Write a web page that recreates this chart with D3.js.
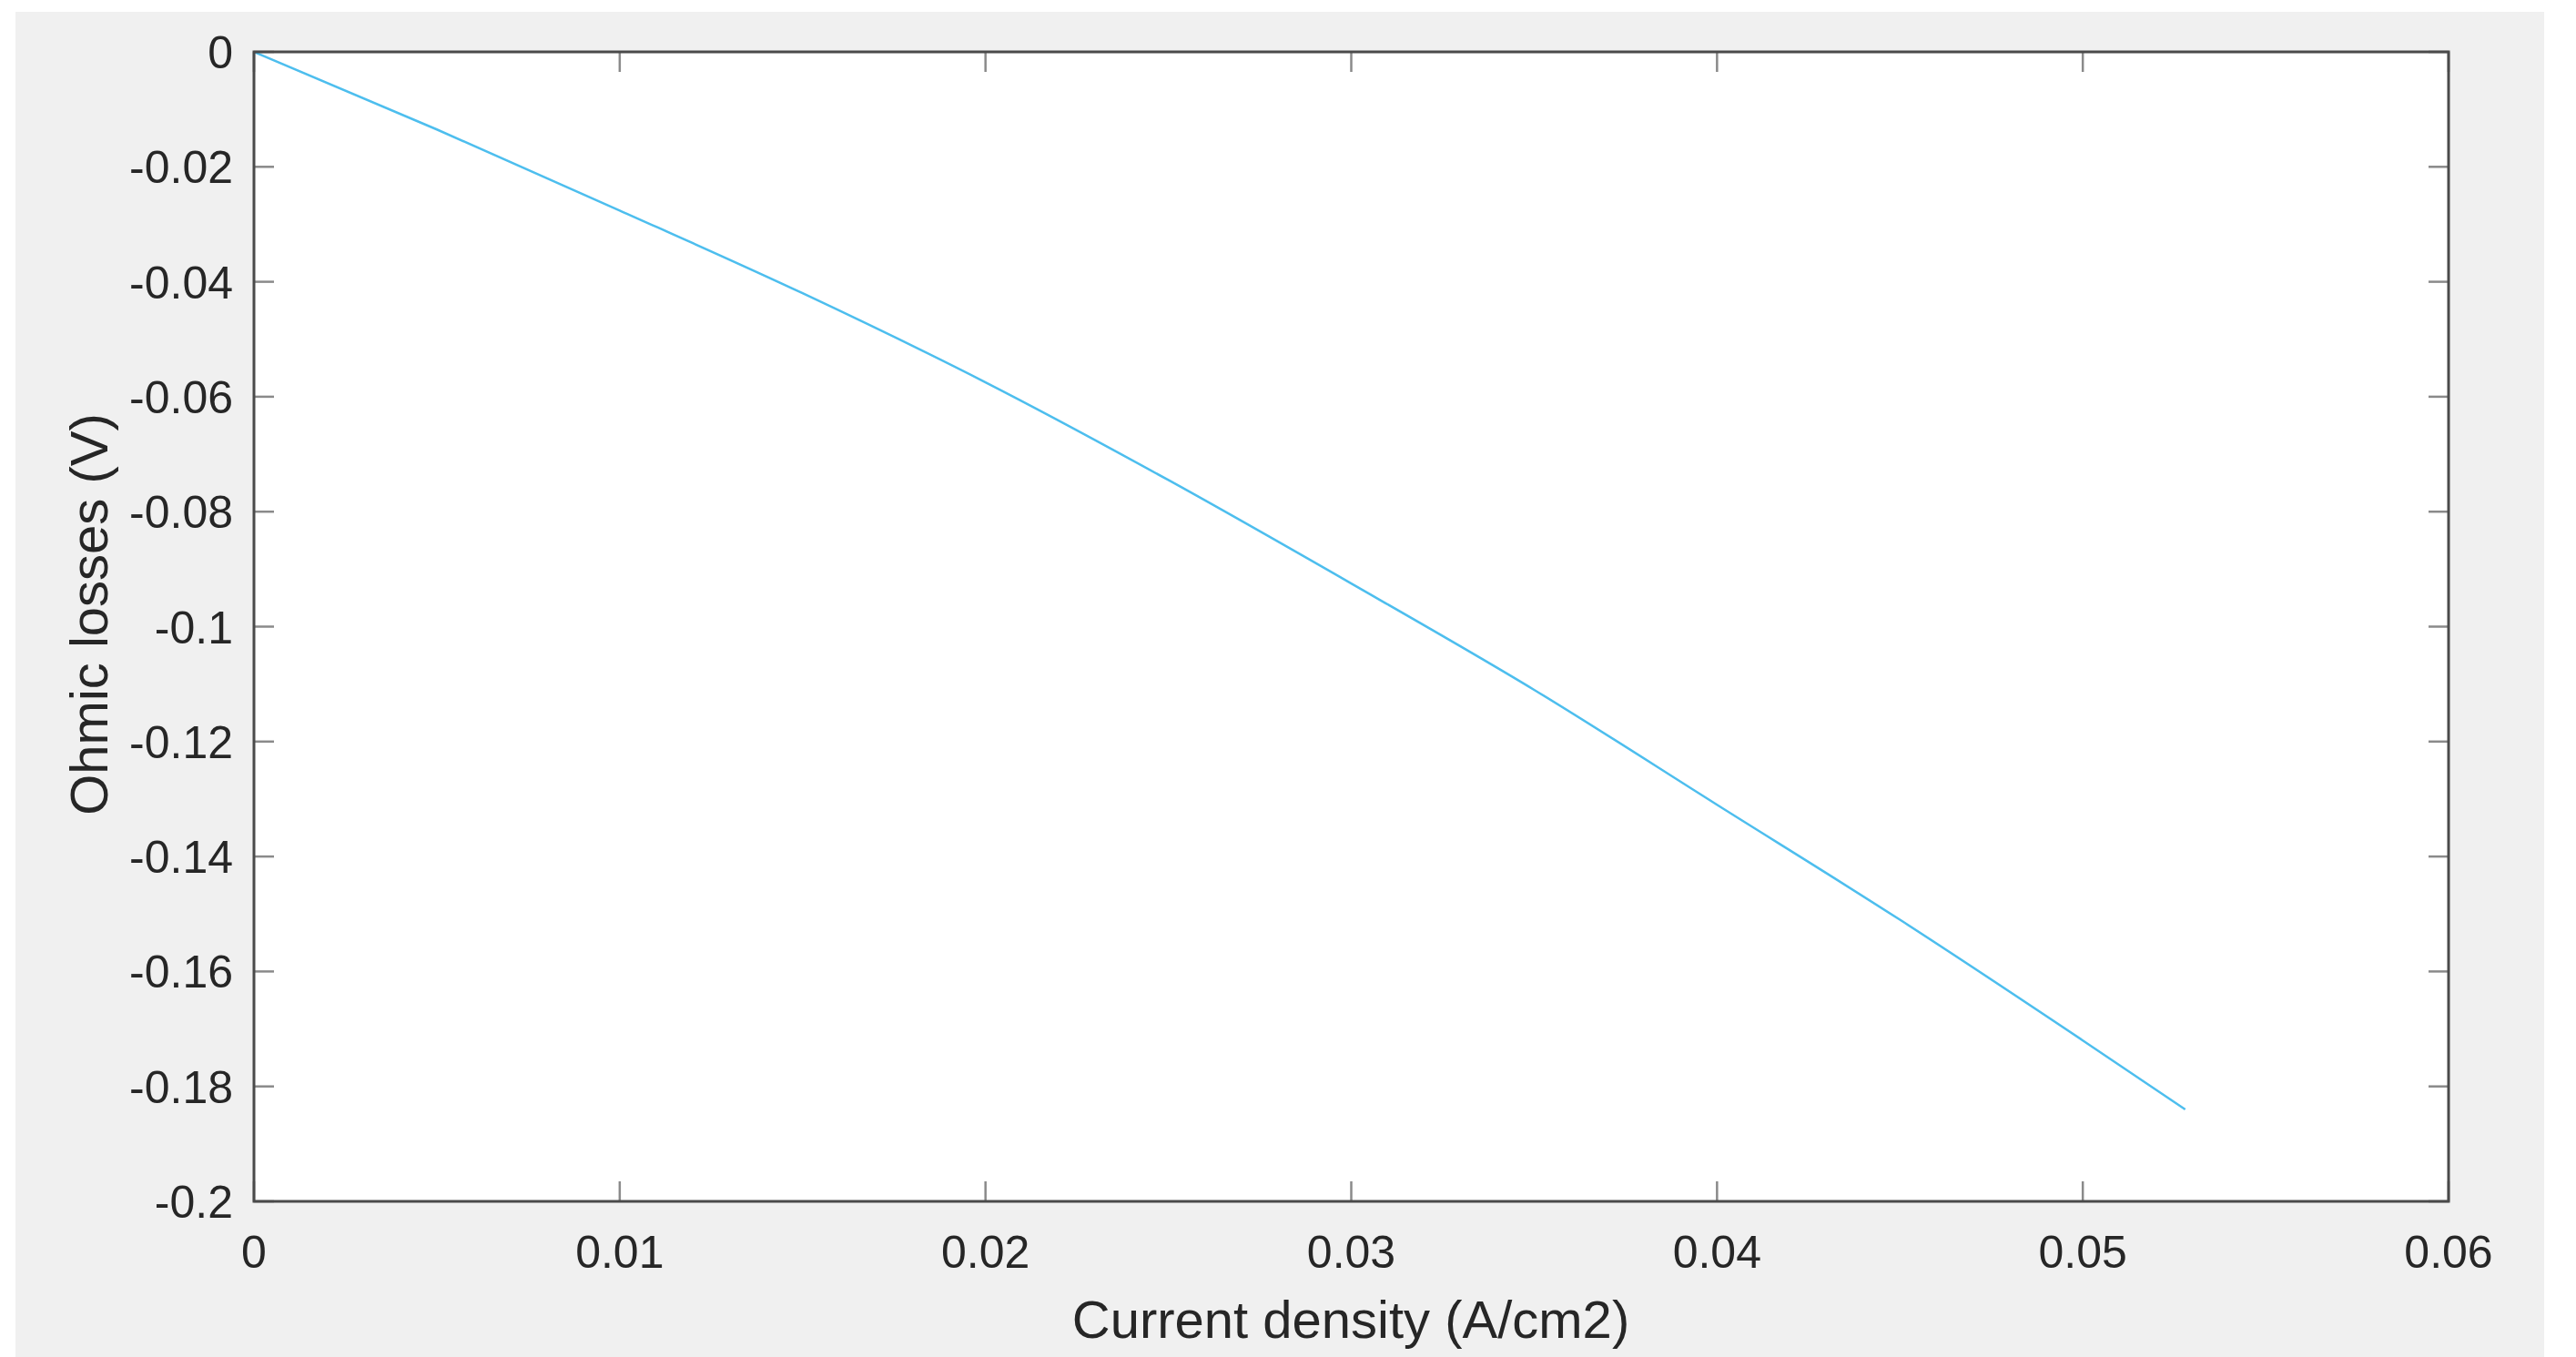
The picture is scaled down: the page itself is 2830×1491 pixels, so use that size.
<!DOCTYPE html>
<html>
<head>
<meta charset="utf-8">
<script src="https://cdn.jsdelivr.net/npm/d3@7"></script>
<style>
body{margin:0;background:#fff;}
text{font-family:"Liberation Sans",Arial,sans-serif;fill:#262626;}
</style>
</head>
<body>
<svg width="2830" height="1491"></svg>
<script>
// current density (A/cm2) and ohmic losses (V)
var current = [0, 0.005, 0.01, 0.015, 0.02, 0.025, 0.03, 0.035, 0.04, 0.045, 0.05, 0.0528];
var losses = [0, -0.0135, -0.0276, -0.042, -0.0575, -0.0745, -0.0925, -0.111, -0.131, -0.151, -0.172, -0.184];
var xTicks = [0, 0.01, 0.02, 0.03, 0.04, 0.05, 0.06];
var yTicks = [0, -0.02, -0.04, -0.06, -0.08, -0.1, -0.12, -0.14, -0.16, -0.18, -0.2];

var svg = d3.select("svg");
var pLeft = 279, pRight = 2690, pTop = 57, pBottom = 1320;

svg.append("rect").attr("x", 17).attr("y", 13).attr("width", 2778).attr("height", 1478).style("fill", "#f0f0f0");
svg.append("rect").attr("x", pLeft).attr("y", pTop).attr("width", pRight-pLeft).attr("height", pBottom-pTop).style("fill", "white");

var x = d3.scaleLinear().domain([0, 0.06]).range([pLeft, pRight]);
var y = d3.scaleLinear().domain([-0.2, 0]).range([pBottom, pTop]);

function fmt(d){ return String(+d.toFixed(3)); }

// ticks, mirrored on all four sides
var tl = 22;
xTicks.forEach(function(d){
	svg.append("line").attr("x1", x(d)).attr("x2", x(d)).attr("y1", pBottom).attr("y2", pBottom-tl).style("stroke", "#8a8a8a").style("stroke-width", 2.5);
	svg.append("line").attr("x1", x(d)).attr("x2", x(d)).attr("y1", pTop).attr("y2", pTop+tl).style("stroke", "#8a8a8a").style("stroke-width", 2.5);
});
yTicks.forEach(function(d){
	svg.append("line").attr("x1", pLeft).attr("x2", pLeft+tl).attr("y1", y(d)).attr("y2", y(d)).style("stroke", "#8a8a8a").style("stroke-width", 2.5);
	svg.append("line").attr("x1", pRight).attr("x2", pRight-tl).attr("y1", y(d)).attr("y2", y(d)).style("stroke", "#8a8a8a").style("stroke-width", 2.5);
});

svg.selectAll(".xl").data(xTicks).enter().append("text")
.attr("x", function(d){ return x(d); }).attr("y", 1393)
.attr("text-anchor", "middle").style("font-size", "50px").text(fmt);
svg.selectAll(".yl").data(yTicks).enter().append("text")
.attr("x", 256).attr("y", function(d){ return y(d)+18; })
.attr("text-anchor", "end").style("font-size", "50px").text(fmt);

var line = d3.line().x(function(d, i){ return x(current[i]); }).y(function(d){ return y(d); }).curve(d3.curveMonotoneX);
svg.append("path").datum(losses).attr("d", line).style("fill", "none").style("stroke", "#4dbeee").style("stroke-width", 2.5);

svg.append("rect").attr("x", pLeft).attr("y", pTop).attr("width", pRight-pLeft).attr("height", pBottom-pTop)
.style("fill", "none").style("stroke", "#4a4a4a").style("stroke-width", 3);

svg.append("text").attr("x", 1484).attr("y", 1470).attr("text-anchor", "middle").style("font-size", "58px").text("Current density (A/cm2)");
svg.append("text").attr("transform", "translate(118,675) rotate(-90)").attr("text-anchor", "middle").style("font-size", "58px").text("Ohmic losses (V)");
</script>
</body>
</html>
